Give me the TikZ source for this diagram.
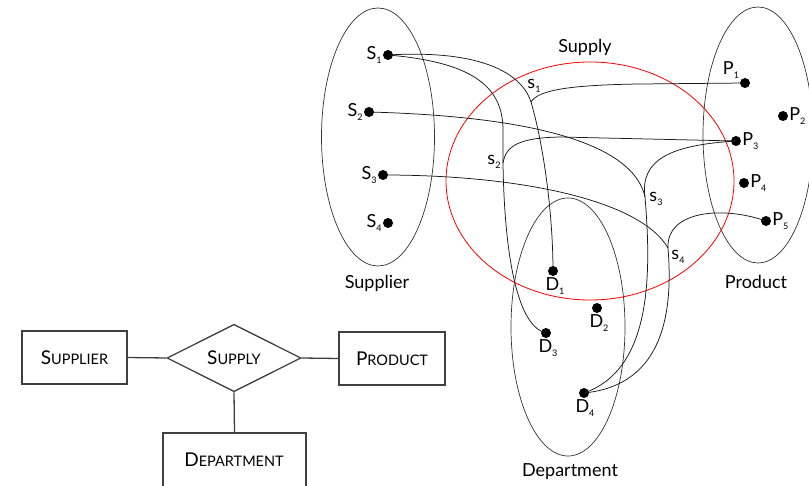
\documentclass[tikz,border=0pt]{standalone}
\usepackage{fontspec}
\setmainfont{Lato}
\usetikzlibrary{shapes.geometric}
\newcommand{\subl}[2]{#1\raisebox{-.45ex}{\fontsize{9}{9}\selectfont #2}}
\newcommand{\sck}[2]{{\fontsize{19}{19}\selectfont #1}{\fontsize{14.5}{14.5}\selectfont #2}}
\begin{document}
\begin{tikzpicture}[x=1pt,y=-1pt,
  set/.style={draw=black!80,line width=0.7pt},
  rel/.style={draw=red,line width=0.8pt},
  tup/.style={draw=black!90,line width=0.75pt},
  dot/.style={circle,fill=black,inner sep=0pt,minimum size=10pt},
  lbl/.style={font=\fontsize{18}{18}\selectfont,inner sep=1pt},
  ent/.style={draw=black!75,line width=1.3pt,minimum width=105pt,minimum height=53pt,inner sep=0pt},
  reln/.style={draw=black!75,line width=1.3pt,diamond,minimum width=134pt,minimum height=64pt,inner sep=0pt},
  conn/.style={draw=black!75,line width=1.3pt}]
\clip (0,0) rectangle (809,486);
\fill[white] (0,0) rectangle (809,486);

% sets
\draw[set] (378,137) ellipse [x radius=56.5, y radius=129];
\draw[set] (758,135) ellipse [x radius=55, y radius=128];
\draw[set] (568,327) ellipse [x radius=57, y radius=129];
\draw[rel] (590,181) ellipse [x radius=144, y radius=119];

% set labels
\node[lbl] (lsup) at (377,283) {Supplier};
\node[lbl] (lprod) at (756,282) {Product};
\node[lbl] (ldep) at (570,472) {Department};
\node[lbl] (lsupply) at (585,47) {Supply};

% dots
\node[dot] (S1) at (388,55) {};
\node[dot] (S2) at (369,112) {};
\node[dot] (S3) at (383,175) {};
\node[dot] (S4) at (388,223) {};
\node[dot] (P1) at (745,83) {};
\node[dot] (P2) at (783,116) {};
\node[dot] (P3) at (736,141) {};
\node[dot] (P4) at (744,183) {};
\node[dot] (P5) at (766,221) {};
\node[dot] (D1) at (553,271) {};
\node[dot] (D2) at (597,308) {};
\node[dot] (D3) at (546,333) {};
\node[dot] (D4) at (584,393) {};

% dot labels
\node[lbl,anchor=east] at (S1.west) {\subl{S}{1}};
\node[lbl,anchor=east] at (S2.west) {\subl{S}{2}};
\node[lbl,anchor=east] at (S3.west) {\subl{S}{3}};
\node[lbl,anchor=east] at (S4.west) {\subl{S}{4}};
\node[lbl] at (731,70) {\subl{P}{1}};
\node[lbl,anchor=west] at (P2.east) {\subl{P}{2}};
\node[lbl,anchor=west] at (P3.east) {\subl{P}{3}};
\node[lbl,anchor=west] at (P4.east) {\subl{P}{4}};
\node[lbl,anchor=west] at (P5.east) {\subl{P}{5}};
\node[lbl,anchor=north] at ([xshift=2pt]D1.south) {\subl{D}{1}};
\node[lbl,anchor=north] at ([xshift=2pt]D2.south) {\subl{D}{2}};
\node[lbl,anchor=north] at ([xshift=2pt]D3.south) {\subl{D}{3}};
\node[lbl,anchor=north] at ([xshift=1pt]D4.south) {\subl{D}{4}};

% junctions
\coordinate (j1) at (531,102);
\coordinate (j2) at (503,163);
\coordinate (j3) at (645,197);
\coordinate (j4) at (668,248);

% tuples
\draw[tup] (S1.center) .. controls (470,50) and (520,68) .. (j1)
  .. controls (545,150) and (553,220) .. (D1.center);
\draw[tup] (j1) .. controls (538,90) and (570,85) .. (640,84) -- (P1.center);
\draw[tup] (S1.center) .. controls (470,62) and (503,85) .. (503,130) -- (j2)
  .. controls (504,230) and (512,325) .. (D3.center);
\draw[tup] (j2) .. controls (506,145) and (520,138) .. (560,137) -- (P3.center);
\draw[tup] (S2.center) .. controls (480,115) and (630,130) .. (j3)
  .. controls (652,280) and (650,370) .. (D4.center);
\draw[tup] (j3) .. controls (640,160) and (670,145) .. (P3.center);
\draw[tup] (S3.center) .. controls (520,175) and (640,200) .. (j4)
  .. controls (673,310) and (665,385) .. (D4.center);
\draw[tup] (j4) .. controls (666,212) and (720,205) .. (P5.center);

% tuple labels
\node[lbl] at (534,86) {\subl{s}{1}};
\node[lbl] at (494,162) {\subl{s}{2}};
\node[lbl] at (656,199) {\subl{s}{3}};
\node[lbl] at (678,257) {\subl{s}{4}};

% ER diagram
\node[ent] (esup) at (74.5,357.5) {\sck{S}{UPPLIER}};
\node[ent,minimum width=106pt] (eprod) at (392,358.5) {\sck{P}{RODUCT}};
\node[reln] (esupply) at (234,358) {\sck{S}{UPPLY}};
\node[ent,minimum width=143pt,minimum height=60pt] (edep) at (234.5,463) {};
\node[inner sep=0pt] (tdep) at (234,460) {\sck{D}{EPARTMENT}};
\draw[conn] (esup.east) -- (esupply.west);
\draw[conn] (esupply.east) -- (eprod.west);
\draw[conn] (esupply.south) -- (edep.north);
\end{tikzpicture}
\end{document}
